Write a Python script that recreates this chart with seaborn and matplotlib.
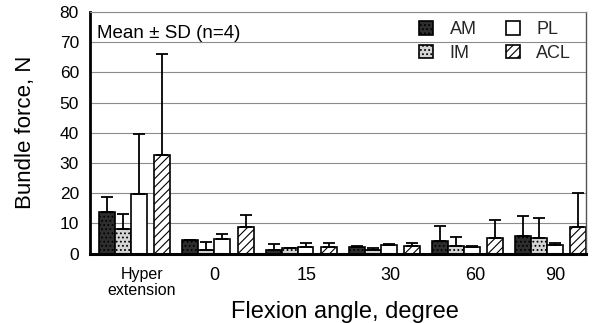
import numpy as np
import pandas as pd
import matplotlib
matplotlib.use("Agg")
import matplotlib.pyplot as plt
import seaborn as sns

# Flexion angles and the four bundles
angles = ["Hyper\nextension", "0", "15", "30", "60", "90"]
bundles = ["AM", "IM", "PL", "ACL"]

# Mean bundle force (N) at each angle
am_mean = [13.8, 4.4, 1.2, 2.1, 4.0, 5.8]
im_mean = [8.0, 1.3, 1.8, 1.3, 2.4, 5.1]
pl_mean = [19.7, 4.7, 2.1, 2.9, 2.1, 2.7]
acl_mean = [32.5, 8.7, 2.1, 2.4, 5.3, 8.9]

# Standard deviations (n=4)
am_sd = [4.8, 0.0, 1.8, 0.4, 5.2, 6.5]
im_sd = [5.0, 2.5, 0.0, 0.6, 3.2, 6.6]
pl_sd = [19.8, 1.8, 1.4, 0.3, 0.3, 0.9]
acl_sd = [33.5, 4.1, 1.5, 1.1, 5.9, 11.0]

yticks = [0, 10, 20, 30, 40, 50, 60, 70, 80]

means = {"AM": am_mean, "IM": im_mean, "PL": pl_mean, "ACL": acl_mean}
sds = {"AM": am_sd, "IM": im_sd, "PL": pl_sd, "ACL": acl_sd}

# bar centres inside each angle slot (AM, IM, PL adjacent; ACL set apart)
offsets = {"AM": 0.208, "IM": 0.401, "PL": 0.593, "ACL": 0.872}
label_pos = [0.622, 1.492, 2.608, 3.610, 4.633, 5.596]

rows = []
for b in bundles:
    for i in range(len(angles)):
        rows.append({"pos": i + offsets[b], "force": means[b][i],
                     "sd": sds[b][i], "bundle": b})
df = pd.DataFrame(rows)

sns.set_theme(style="white")
plt.rcParams["font.family"] = ["Liberation Sans", "DejaVu Sans"]
plt.rcParams["hatch.linewidth"] = 0.8

fig = plt.figure(figsize=(5.93, 3.23), dpi=100)
ax = fig.add_axes([90 / 593, 1 - 253.5 / 323, 496 / 593, 241.5 / 323])

palette = {"AM": "#2e2e2e", "IM": "#d4d4d4", "PL": "white", "ACL": "white"}
sns.barplot(data=df, x="pos", y="force", hue="bundle", hue_order=bundles,
            palette=palette, native_scale=True, dodge=False, width=1.0,
            errorbar=None, saturation=1, edgecolor="black", linewidth=1.2,
            legend=False, ax=ax)

hatches = {"AM": "....", "IM": "....", "PL": "", "ACL": "////"}
for cont, b in zip(ax.containers, bundles):
    for bar in cont:
        bar.set_hatch(hatches[b])
        bar.set_zorder(2)

# upper-only SD whiskers
ax.errorbar(df["pos"], df["force"], yerr=[np.zeros(len(df)), df["sd"]],
            fmt="none", ecolor="black", elinewidth=1.3, capsize=4.5,
            capthick=1.3, zorder=3)

ax.set_xlim(0, 5.968)
ax.set_ylim(0, 80)
ax.set_yticks(yticks)
ax.set_yticklabels([str(v) for v in yticks], fontsize=12.5)
ax.set_xticks(label_pos)
ax.set_xticklabels(angles, fontsize=13)
for lbl in ax.get_xticklabels():
    if "\n" in lbl.get_text():
        lbl.set_fontsize(11.5)
        lbl.set_linespacing(1.05)
ax.tick_params(axis="x", length=0, pad=10, colors="black")
ax.tick_params(axis="y", length=0, pad=8, colors="black")

ax.grid(axis="y", color="#8c8c8c", linewidth=0.8)
ax.set_axisbelow(True)
for side, lw, col in [("left", 2.0, "black"), ("bottom", 2.2, "black"),
                      ("right", 1.0, "#555555"), ("top", 0.8, "#8c8c8c")]:
    ax.spines[side].set_visible(True)
    ax.spines[side].set_linewidth(lw)
    ax.spines[side].set_color(col)

ax.set_xlabel("Flexion angle, degree", fontsize=17, color="black")
ax.xaxis.set_label_coords(0.514, -0.195)
ax.set_ylabel("Bundle force, N", fontsize=16, color="black")
ax.yaxis.set_label_coords(-0.108, 0.5)

ax.text(97 / 593, 1 - 33 / 323, "Mean ± SD (n=4)", transform=fig.transFigure,
        fontsize=13.5, va="center", ha="left", color="black")

handles = [ax.containers[i][0] for i in range(len(bundles))]
ax.legend(handles, bundles, ncol=2, frameon=False, fontsize=13,
          loc="upper left", bbox_to_anchor=(419 / 593, 1 - 21 / 323),
          bbox_transform=fig.transFigure, borderpad=0, borderaxespad=0,
          handlelength=0.8, handleheight=0.8, handletextpad=0.9,
          columnspacing=1.6, labelspacing=0.35)

fig.savefig("out.png", dpi=100)
